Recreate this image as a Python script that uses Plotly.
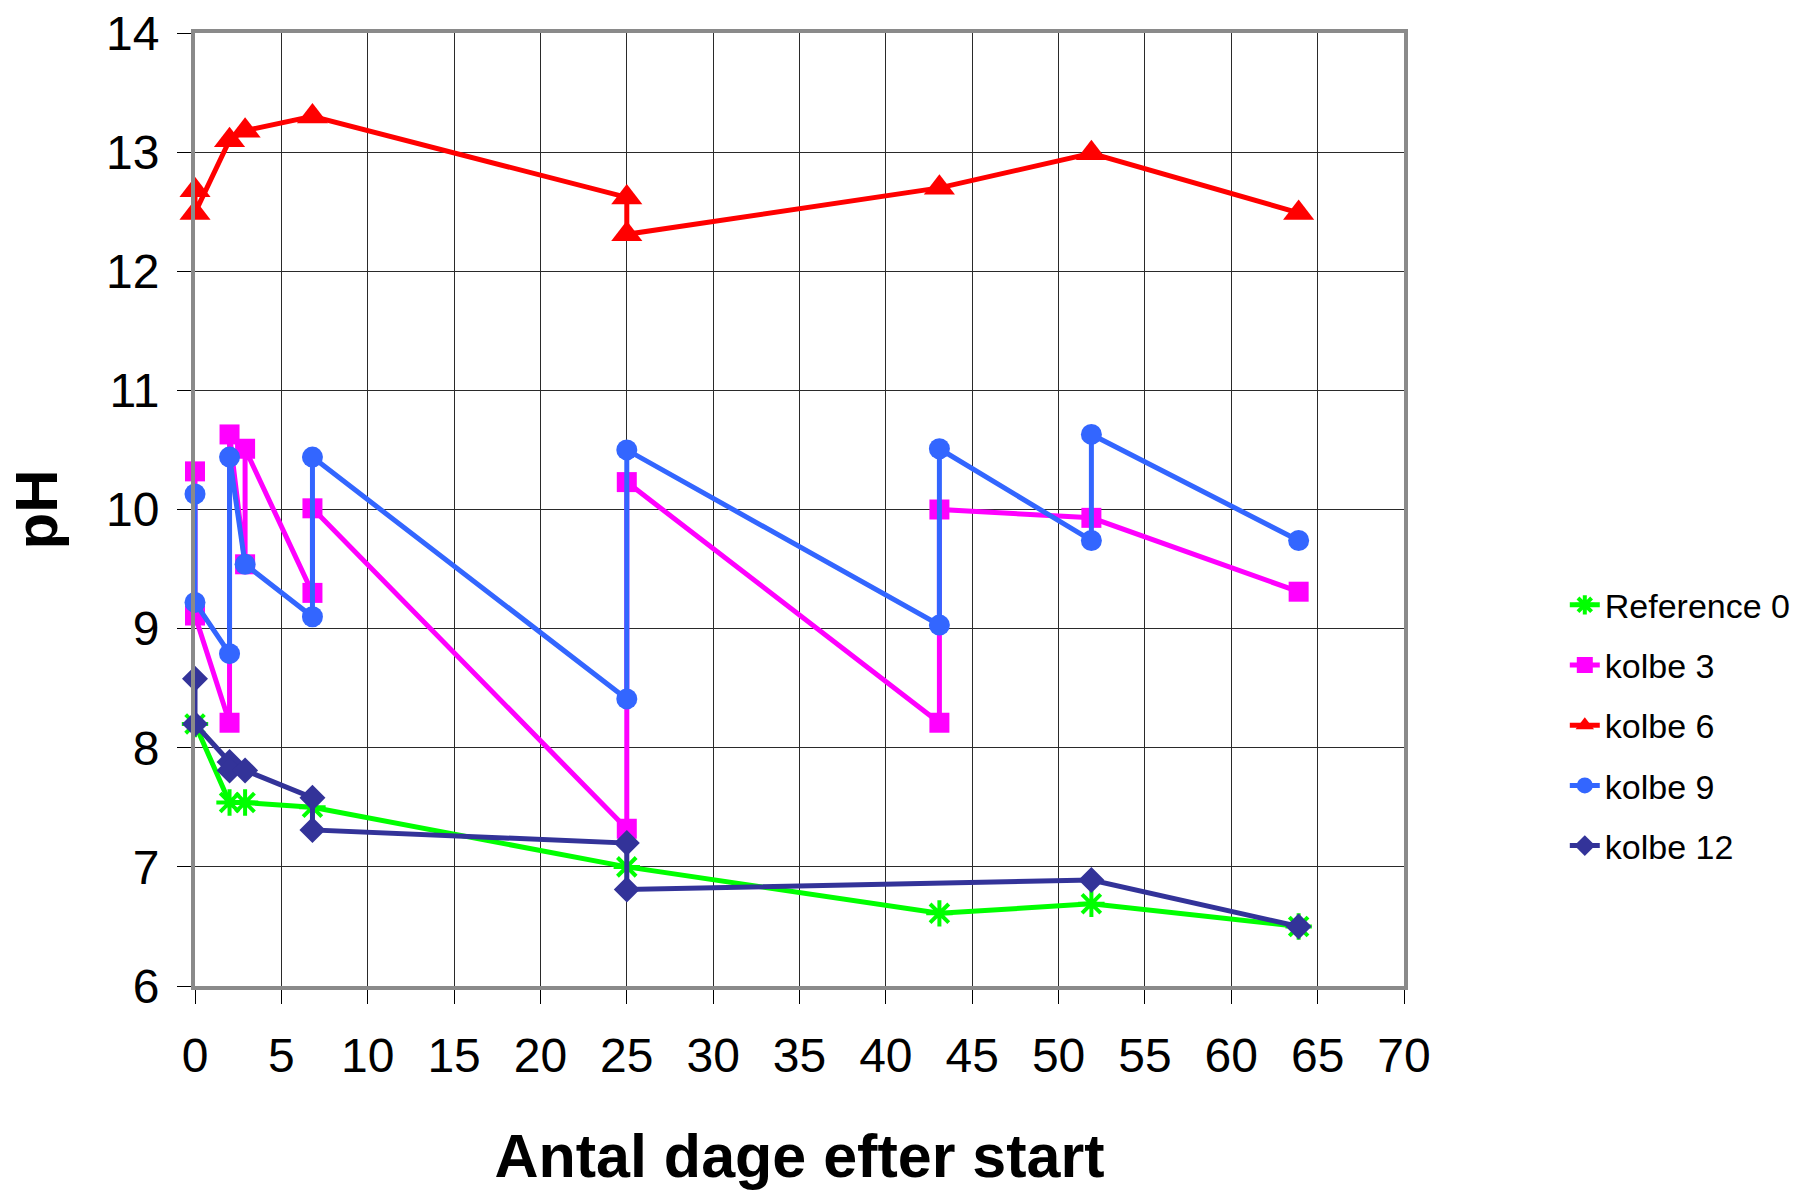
import plotly.graph_objects as go

# ---- data ----
series_names = ["Reference 0", "kolbe 3", "kolbe 6", "kolbe 9", "kolbe 12"]

days_ref = [0, 2, 2.9, 6.8, 25, 43.1, 51.9, 63.9]
ph_ref = [8.20, 7.54, 7.54, 7.50, 7.00, 6.61, 6.69, 6.50]

days_k3 = [0, 0, 2, 2, 2.9, 2.9, 6.8, 6.8, 25, 25, 43.1, 43.1, 51.9, 63.9]
ph_k3 = [10.32, 9.11, 8.21, 10.63, 9.54, 10.51, 9.30, 10.01, 7.32, 10.23, 8.21, 10.00, 9.93, 9.31]

days_k6 = [0, 0, 2, 2.9, 6.8, 25, 25, 43.1, 51.9, 63.9]
ph_k6 = [12.68, 12.49, 13.10, 13.18, 13.30, 12.62, 12.31, 12.70, 12.99, 12.49]

days_k9 = [0, 0, 2, 2, 2.9, 6.8, 6.8, 25, 25, 43.1, 43.1, 51.9, 51.9, 63.9]
ph_k9 = [10.13, 9.22, 8.79, 10.44, 9.54, 9.10, 10.44, 8.41, 10.50, 9.03, 10.51, 9.74, 10.63, 9.74]

days_k12 = [0, 0, 2, 2, 2.9, 6.8, 6.8, 25, 25, 51.9, 63.9]
ph_k12 = [8.58, 8.20, 7.88, 7.81, 7.81, 7.58, 7.31, 7.20, 6.81, 6.89, 6.50]

x_ticks = list(range(0, 71, 5))
y_ticks = list(range(6, 15, 1))

# ---- styles ----
colors = ["#00FF00", "#FF00FF", "#FF0000", "#3366FF", "#333399"]
symbols = ["asterisk-open", "square", "triangle-up", "circle", "diamond"]
sizes = [22, 20, 27, 21, 20]

FONT = "Liberation Sans, Arial, sans-serif"

fig = go.Figure()
all_x = [days_ref, days_k3, days_k6, days_k9, days_k12]
all_y = [ph_ref, ph_k3, ph_k6, ph_k9, ph_k12]
for i, name in enumerate(series_names):
    marker = dict(symbol=symbols[i], size=sizes[i], color=colors[i])
    if symbols[i].endswith("open"):
        marker["line"] = dict(color=colors[i], width=4)
    else:
        marker["line"] = dict(width=0)
    fig.add_trace(go.Scatter(
        x=all_x[i], y=all_y[i], name=name, mode="lines+markers",
        line=dict(color=colors[i], width=5),
        marker=marker, cliponaxis=False, legendgroup=name,
    ))

axis_common = dict(
    showgrid=True, gridcolor="#2a2a2a", gridwidth=1,
    showline=True, linecolor="#8a8a8a", linewidth=4, mirror=True,
    ticks="outside", ticklen=14, tickwidth=1, tickcolor="#000000",
    tickfont=dict(family=FONT, size=48, color="#000000"),
    zeroline=False, automargin=False,
)

fig.update_layout(
    template="none",
    width=1804, height=1190,
    margin=dict(l=195, r=400, t=33, b=204, pad=0, autoexpand=False),
    paper_bgcolor="white", plot_bgcolor="white",
    font=dict(family=FONT, color="#000000"),
    xaxis=dict(range=[0, 70], tickvals=x_ticks, ticklabelstandoff=10,
               title=dict(text="Antal dage efter start",
                          font=dict(family=FONT, size=61, weight="bold"),
                          standoff=58),
               **axis_common),
    yaxis=dict(range=[6, 14], tickvals=y_ticks, ticklabelstandoff=8,
               title=dict(text="pH",
                          font=dict(family=FONT, size=60, weight="bold"),
                          standoff=30),
               **axis_common),
    legend=dict(x=1.133, xanchor="left", y=0.43, yanchor="top",
                font=dict(family=FONT, size=34, color="#000000"),
                tracegroupgap=13, bgcolor="rgba(0,0,0,0)", borderwidth=0,
                itemwidth=30),
    showlegend=True,
)

fig.write_html("out.html")
